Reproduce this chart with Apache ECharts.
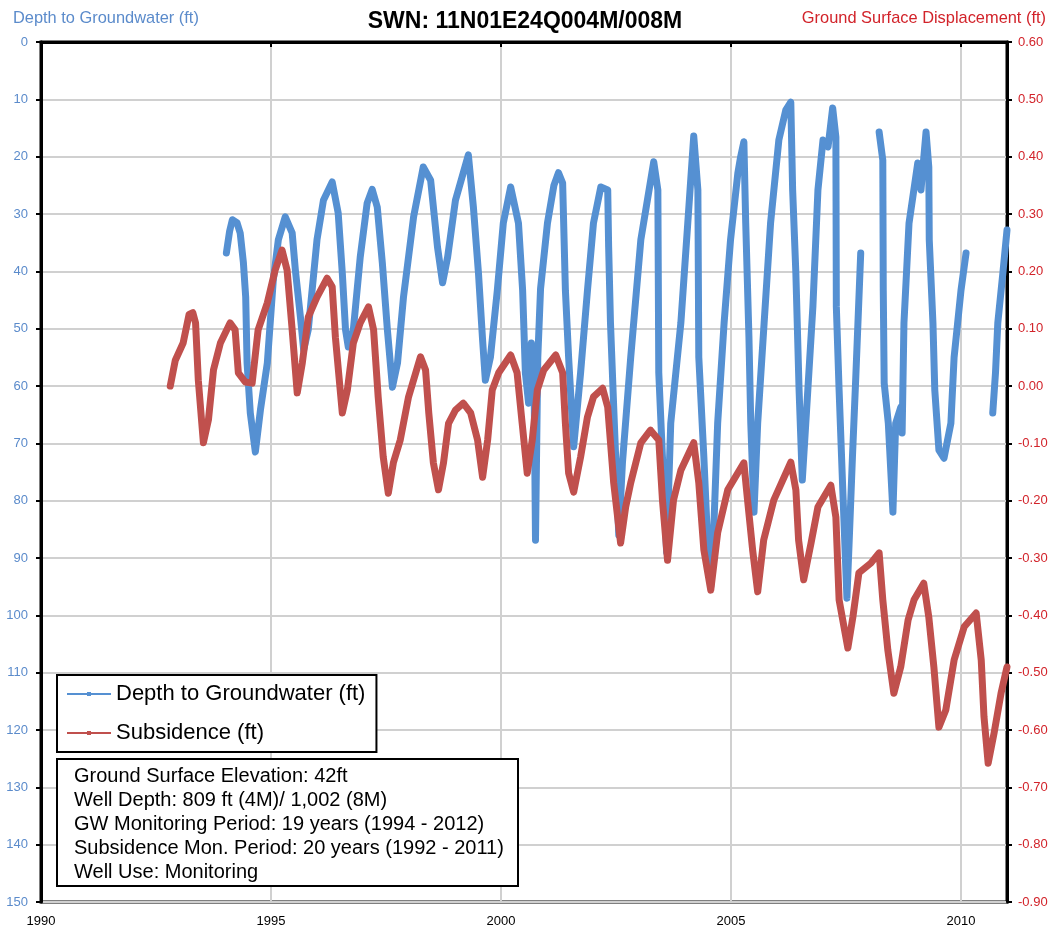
<!DOCTYPE html>
<html>
<head>
<meta charset="utf-8">
<script src="https://cdn.jsdelivr.net/npm/echarts@6/dist/echarts.min.js"></script>
<style>
html,body{margin:0;padding:0;background:#ffffff;}
#chart{width:1050px;height:929px;}
</style>
</head>
<body>
<div id="chart"></div>
<script>
// ---------- DATA ----------
const chartTitle = 'SWN: 11N01E24Q004M/008M';
const leftAxisName = 'Depth to Groundwater (ft)';
const rightAxisName = 'Ground Surface Displacement (ft)';
const seriesNames = ['Depth to Groundwater (ft)', 'Subsidence (ft)'];
const infoLines = [
  'Ground Surface Elevation: 42ft',
  'Well Depth: 809 ft (4M)/ 1,002 (8M)',
  'GW Monitoring Period: 19 years (1994 - 2012)',
  'Subsidence Mon. Period: 20 years (1992 - 2011)',
  'Well Use: Monitoring'
];
const xMin = 1990, xMax = 2011, xStep = 5;
const leftMin = 0, leftMax = 150, leftStep = 10;
const rightMin = -0.9, rightMax = 0.6, rightStep = 0.1;

// Depth to groundwater (ft); null = gap in record
const gwYear = [
  1994.03,1994.10,1994.16,1994.26,1994.33,1994.40,1994.45,1994.48,1994.55,1994.66,1994.77,1994.92,
  1995.05,1995.16,1995.31,1995.46,1995.53,1995.64,1995.71,1995.81,
  1996.00,1996.14,1996.33,1996.46,1996.55,1996.62,1996.68,1996.79,1996.94,
  1997.09,1997.20,1997.31,1997.42,1997.53,1997.64,1997.75,1997.88,
  1998.10,1998.31,1998.47,1998.62,1998.73,1998.84,
  1999.01,1999.29,1999.40,1999.51,1999.60,1999.66,1999.77,1999.92,
  2000.05,2000.21,2000.38,2000.47,2000.53,2000.60,2000.66,2000.72,2000.75,2000.80,2000.86,
  2001.01,2001.15,2001.25,2001.34,2001.40,2001.47,2001.58,2001.73,2001.88,
  2002.01,2002.17,2002.32,2002.34,2002.38,2002.45,2002.56,2002.64,2002.82,
  2003.04,2003.32,2003.41,2003.43,2003.51,2003.60,2003.69,2003.91,
  2004.06,2004.19,2004.28,2004.30,2004.41,2004.49,2004.56,2004.63,2004.71,2004.85,2004.99,
  2005.15,2005.21,2005.28,2005.32,2005.39,2005.43,2005.50,2005.58,2005.72,2005.86,
  2006.04,2006.19,2006.30,2006.34,2006.41,2006.48,2006.55,2006.67,2006.78,2006.89,
  2007.00,2007.11,2007.21,2007.28,2007.29,2007.35,2007.43,2007.52,2007.57,2007.64,2007.71,2007.82,
  2008.00,
  2008.22,2008.30,2008.31,2008.33,2008.42,2008.52,2008.58,2008.69,2008.72,2008.76,2008.87,
  2009.06,2009.13,2009.24,2009.30,2009.31,2009.39,2009.43,2009.52,2009.63,2009.78,2009.85,
  2010.00,2010.11,
  2010.40,
  2010.69,2010.75,2010.80,2010.91,2011.00
];
const gwDepth = [
  36.8,33,31,31.5,33.3,38.5,44.5,56,64.7,71.5,64.2,56,
  41.5,34.5,30.5,33.3,39.8,48,53.7,50.2,
  34.5,27.6,24.4,29.8,40.3,50.2,53.2,50.2,37.5,
  28.1,25.7,28.8,38.5,50.2,60.2,56,44.5,
  30.5,21.8,24.1,35.8,42,37.5,
  27.6,19.7,28.8,40.3,52,59,55,43.3,
  31.6,25.3,31.6,43.3,57.7,63,52.5,60,86.9,55,43,
  31.6,25,22.8,24.6,43.3,55,70.6,57.7,43.3,
  31.6,25.3,25.8,35.7,49,63.7,86,73.4,55,
  34.5,20.9,25.8,57.7,72.4,89,66.5,49,
  31.6,16.4,25.8,55,72.4,86.9,95,83.9,66.5,49,34.5,
  22.8,20,17.4,31.6,51.5,66.5,82,66.5,49,31.6,
  17.1,11.9,10.5,25.8,40.3,60.7,76.4,60.7,46.2,25.8,
  17.1,18.3,11.5,16.6,46.2,60.7,78.1,97,86.9,72.4,59,36.8,
  null,
  15.7,20.6,43.3,59.5,66.5,82,66.5,63.7,68.2,49,31.6,
  21.1,25.8,15.7,21.8,34.5,49,60.7,71.2,72.6,66.5,55,
  43.3,36.8,
  null,
  64.7,57.7,49,40.3,32.8
];

// Subsidence / ground surface displacement (ft)
const subYear = [
  1992.81,1992.92,1993.09,1993.22,1993.30,1993.36,1993.42,1993.53,1993.64,1993.75,1993.90,
  1994.11,1994.22,1994.29,1994.44,1994.59,1994.72,1994.92,
  1995.09,1995.24,1995.35,1995.46,1995.57,1995.68,1995.81,
  1996.00,1996.22,1996.33,1996.40,1996.55,1996.66,1996.79,1996.94,
  1997.12,1997.23,1997.33,1997.44,1997.55,1997.66,1997.81,1997.99,
  1998.25,1998.36,1998.43,1998.53,1998.64,1998.75,1998.86,
  1999.01,1999.18,1999.34,1999.49,1999.60,1999.71,1999.81,1999.95,
  2000.21,2000.35,2000.46,2000.57,2000.68,2000.79,2000.93,
  2001.19,2001.34,2001.40,2001.47,2001.58,2001.73,2001.88,
  2002.01,2002.21,2002.32,2002.45,2002.60,2002.71,2002.82,
  2003.04,2003.25,2003.43,2003.51,2003.62,2003.75,2003.91,
  2004.19,2004.30,2004.41,2004.56,2004.71,2004.93,
  2005.28,2005.36,2005.47,2005.58,2005.71,2005.93,
  2006.30,2006.41,2006.47,2006.58,2006.74,2006.89,
  2007.17,2007.28,2007.35,2007.54,2007.65,2007.78,
  2008.04,2008.22,2008.30,2008.41,2008.54,2008.69,2008.85,2008.98,
  2009.19,2009.30,2009.41,2009.52,2009.67,2009.85,
  2010.07,2010.33,2010.44,2010.50,2010.59,2010.72,2010.87,2011.00
];
const subDisp = [
  0.00,0.045,0.075,0.125,0.128,0.110,0.010,-0.099,-0.059,0.028,0.075,
  0.110,0.098,0.023,0.007,0.005,0.098,0.145,
  0.202,0.237,0.202,0.098,-0.012,0.040,0.120,
  0.155,0.188,0.173,0.085,-0.047,-0.007,0.075,0.110,
  0.138,0.098,-0.019,-0.124,-0.187,-0.134,-0.094,-0.019,
  0.051,0.028,-0.047,-0.134,-0.181,-0.134,-0.065,
  -0.042,-0.030,-0.047,-0.094,-0.159,-0.094,-0.007,0.023,
  0.054,0.023,-0.065,-0.152,-0.094,-0.007,0.028,
  0.054,0.023,-0.065,-0.152,-0.185,-0.124,-0.054,
  -0.019,-0.004,-0.037,-0.169,-0.274,-0.211,-0.169,
  -0.099,-0.077,-0.094,-0.199,-0.304,-0.199,-0.147,
  -0.099,-0.169,-0.286,-0.356,-0.256,-0.181,
  -0.134,-0.199,-0.286,-0.359,-0.269,-0.199,
  -0.133,-0.181,-0.269,-0.338,-0.274,-0.211,
  -0.173,-0.229,-0.373,-0.457,-0.403,-0.326,
  -0.309,-0.291,-0.373,-0.461,-0.536,-0.490,-0.408,-0.373,
  -0.344,-0.403,-0.490,-0.595,-0.565,-0.478,
  -0.420,-0.396,-0.478,-0.577,-0.658,-0.605,-0.536,-0.490
];

// ---------- STYLE ----------
const BLUE = '#5590d2';
const RED = '#c0504d';
const BLUE_TXT = '#5b8bcb';
const RED_TXT = '#d2232a';
const SANS = "'Liberation Sans', Arial, sans-serif";

const gwData = gwYear.map((x, i) => [x, gwDepth[i]]);
const subData = subYear.map((x, i) => [x, subDisp[i]]);

const chart = echarts.init(document.getElementById('chart'), null, {renderer: 'canvas'});

const infoGraphics = infoLines.map((t, i) => ({
  type: 'text',
  left: 74,
  top: 766 + i * 24.2,
  z: 101,
  style: {text: t, font: '20px ' + SANS, fill: '#000'}
}));

const option = {
  backgroundColor: '#ffffff',
  animation: false,
  title: {
    text: chartTitle,
    left: 'center',
    top: 5,
    textStyle: {fontFamily: SANS, fontSize: 23, fontWeight: 'bold', color: '#000'}
  },
  grid: {
    left: 41, right: 43, top: 42, bottom: 27,
    show: true, borderColor: '#000', borderWidth: 3, backgroundColor: 'transparent',
    containLabel: false, outerBoundsMode: 'none'
  },
  legend: {
    orient: 'vertical',
    left: 57, top: 675,
    padding: [8, 11, 8, 10],
    itemGap: 17,
    itemWidth: 44, itemHeight: 8,
    backgroundColor: '#fff',
    borderColor: '#000', borderWidth: 2,
    textStyle: {fontFamily: SANS, fontSize: 22, color: '#000'},
    data: [
      {name: seriesNames[0], icon: 'path://M0,9 L44,9 L44,11 L0,11 Z M20,8 L24,8 L24,12 L20,12 Z'},
      {name: seriesNames[1], icon: 'path://M0,9 L44,9 L44,11 L0,11 Z M20,8 L24,8 L24,12 L20,12 Z'}
    ],
    z: 100
  },
  xAxis: {
    type: 'value',
    min: xMin, max: xMax, interval: xStep,
    axisLine: {show: true, lineStyle: {color: '#000', width: 3}},
    axisTick: {show: true, length: 5, lineStyle: {color: '#000', width: 2}},
    axisLabel: {
      margin: 13, color: '#000', fontFamily: SANS, fontSize: 13,
      formatter: v => (v % xStep === 0 ? String(v) : '')
    },
    splitLine: {show: true, lineStyle: {color: '#d0d0d0', width: 2}}
  },
  yAxis: [
    {
      type: 'value', inverse: true,
      min: leftMin, max: leftMax, interval: leftStep,
      axisLine: {show: true, lineStyle: {color: '#000', width: 3}},
      axisTick: {show: true, length: 5, lineStyle: {color: '#000', width: 2}},
      axisLabel: {margin: 13, color: BLUE_TXT, fontFamily: SANS, fontSize: 13},
      splitLine: {show: true, lineStyle: {color: '#d0d0d0', width: 2}}
    },
    {
      type: 'value', position: 'right',
      min: rightMin, max: rightMax, interval: rightStep,
      axisLine: {show: true, lineStyle: {color: '#000', width: 3}},
      axisTick: {show: true, length: 5, lineStyle: {color: '#000', width: 2}},
      axisLabel: {margin: 11, color: RED_TXT, fontFamily: SANS, fontSize: 13,
        formatter: v => Number(v).toFixed(2)},
      splitLine: {show: false}
    }
  ],
  graphic: [
    {type: 'text', left: 13, top: 10, style: {text: leftAxisName, font: '16.4px ' + SANS, fill: BLUE_TXT}},
    {type: 'text', right: 4, top: 10, style: {text: rightAxisName, font: '16.4px ' + SANS, fill: RED_TXT}},
    {type: 'rect', shape: {x: 57, y: 759, width: 461, height: 127}, z: 100,
      style: {fill: '#fff', stroke: '#000', lineWidth: 2}},
    ...infoGraphics
  ],
  series: [
    {
      name: seriesNames[0], type: 'line', yAxisIndex: 0,
      data: gwData, connectNulls: false,
      symbol: 'circle', symbolSize: 4, showSymbol: false,
      itemStyle: {color: BLUE},
      lineStyle: {color: BLUE, width: 7, cap: 'round', join: 'round'},
      z: 2
    },
    {
      name: seriesNames[1], type: 'line', yAxisIndex: 1,
      data: subData,
      symbol: 'circle', symbolSize: 4, showSymbol: false,
      itemStyle: {color: RED},
      lineStyle: {color: RED, width: 7, cap: 'round', join: 'round'},
      z: 3
    }
  ]
};
chart.setOption(option);
</script>
</body>
</html>
